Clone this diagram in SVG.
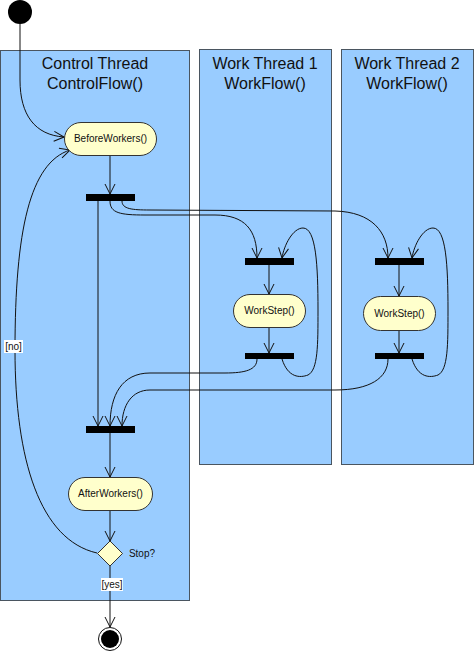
<svg xmlns="http://www.w3.org/2000/svg" width="474" height="652" viewBox="0 0 474 652">
<defs>
<style>
.lane{fill:#99CCFF;stroke:#4a5560;stroke-width:1}
.title{font-family:"Liberation Sans",Arial,sans-serif;font-size:16px;fill:#111;text-anchor:middle}
.act{fill:#FFFFCC;stroke:#333;stroke-width:1}
.lbl{font-family:"Liberation Sans",Arial,sans-serif;font-size:10px;fill:#111;text-anchor:middle}
.bar{fill:#000}
.con{fill:none;stroke:#111;stroke-width:1}
.guard{fill:#fff}
</style>
<marker id="arr" viewBox="0 0 12 12" refX="11" refY="6" markerWidth="12" markerHeight="12" markerUnits="userSpaceOnUse" orient="auto">
<path d="M1,1 L11,6 L1,11" fill="none" stroke="#111" stroke-width="1"/>
</marker>
</defs>
<rect width="474" height="652" fill="#fff"/>
<g id="lane-control">
<rect class="lane" x="0.5" y="50.5" width="189" height="550"/>
<text class="title" x="95" y="69">Control Thread</text>
<text class="title" x="95" y="89">ControlFlow()</text>
</g>
<g id="lane-work1">
<rect class="lane" x="199.5" y="49.5" width="132" height="415"/>
<text class="title" x="265" y="69">Work Thread 1</text>
<text class="title" x="265" y="89">WorkFlow()</text>
</g>
<g id="lane-work2">
<rect class="lane" x="341.5" y="49.5" width="132" height="415"/>
<text class="title" x="407" y="69">Work Thread 2</text>
<text class="title" x="407" y="89">WorkFlow()</text>
</g>
<g id="connectors">
<path class="con" marker-end="url(#arr)" d="M20,24 L20,80 C20,115 35,135 64,137"/>
<path class="con" marker-end="url(#arr)" d="M110,155 L110,194"/>
<path class="con" marker-end="url(#arr)" d="M98,201 L98,426"/>
<path class="con" marker-end="url(#arr)" d="M110,201 C110,213 120,215 145,215 L215,215 C245,215 257,230 257,258"/>
<path class="con" marker-end="url(#arr)" d="M122,201 C122,209 132,210 150,210 L335,211 C372,212 388,232 388,258"/>
<path class="con" marker-end="url(#arr)" d="M269,265 L269,294"/>
<path class="con" marker-end="url(#arr)" d="M269,327 L269,353"/>
<path class="con" marker-end="url(#arr)" d="M399,265 L399,296"/>
<path class="con" marker-end="url(#arr)" d="M399,330 L399,353"/>
<path class="con" marker-end="url(#arr)" d="M282,359 C288,378 300,378 308,375 C318,370 318,345 318,310 C318,265 316,228 303,228 C293,228 284,245 282,258"/>
<path class="con" marker-end="url(#arr)" d="M412,359 C418,378 430,378 438,375 C448,370 448,345 448,310 C448,265 446,228 433,228 C423,228 414,245 412,258"/>
<path class="con" marker-end="url(#arr)" d="M257,359 C257,370 245,373 225,373 L150,373 C122,373 110,395 110,426"/>
<path class="con" marker-end="url(#arr)" d="M388,359 C388,378 370,390 335,390 L150,390 C132,390 122,405 122,426"/>
<path class="con" marker-end="url(#arr)" d="M110,433 L110,477"/>
<path class="con" marker-end="url(#arr)" d="M110,511 L110,541"/>
<path class="con" marker-end="url(#arr)" d="M110,566 L110,627"/>
<path class="con" marker-end="url(#arr)" d="M97,553 C40,540 15,460 15,350 C15,230 30,163 70,150"/>
<rect class="guard" x="4" y="340" width="19" height="13"/>
<text class="lbl" x="13.5" y="350">[no]</text>
<rect class="guard" x="101" y="578" width="22" height="13"/>
<text class="lbl" x="112" y="588">[yes]</text>
</g>
<g id="start"><circle cx="20" cy="12" r="12" fill="#000"/></g>
<g id="beforeWorkers">
<rect class="act" x="64.5" y="122.5" width="92" height="33" rx="16.5"/>
<text class="lbl" x="110.5" y="142">BeforeWorkers()</text>
</g>
<g id="fork"><rect class="bar" x="86" y="194" width="49" height="7"/></g>
<g id="fork1"><rect class="bar" x="245" y="258" width="49" height="7"/></g>
<g id="workStep1">
<rect class="act" x="233.5" y="294.5" width="72" height="33" rx="16.5"/>
<text class="lbl" x="269.5" y="314">WorkStep()</text>
</g>
<g id="join1"><rect class="bar" x="245" y="353" width="49" height="6"/></g>
<g id="fork2"><rect class="bar" x="375" y="258" width="49" height="7"/></g>
<g id="workStep2">
<rect class="act" x="363.5" y="296.5" width="72" height="34" rx="17"/>
<text class="lbl" x="399.5" y="317">WorkStep()</text>
</g>
<g id="join2"><rect class="bar" x="375" y="353" width="49" height="6"/></g>
<g id="join"><rect class="bar" x="86" y="426" width="49" height="7"/></g>
<g id="afterWorkers">
<rect class="act" x="68.5" y="477.5" width="84" height="33" rx="16.5"/>
<text class="lbl" x="110.5" y="497">AfterWorkers()</text>
</g>
<g id="decision">
<path class="act" d="M110,541 L122.5,553.5 L110,566 L97.5,553.5 Z"/>
<text class="lbl" x="142" y="557">Stop?</text>
</g>
<g id="end">
<circle cx="110" cy="639" r="11.5" fill="#fff" stroke="#111" stroke-width="1"/>
<circle cx="110" cy="639" r="9" fill="#000"/>
</g>
</svg>
